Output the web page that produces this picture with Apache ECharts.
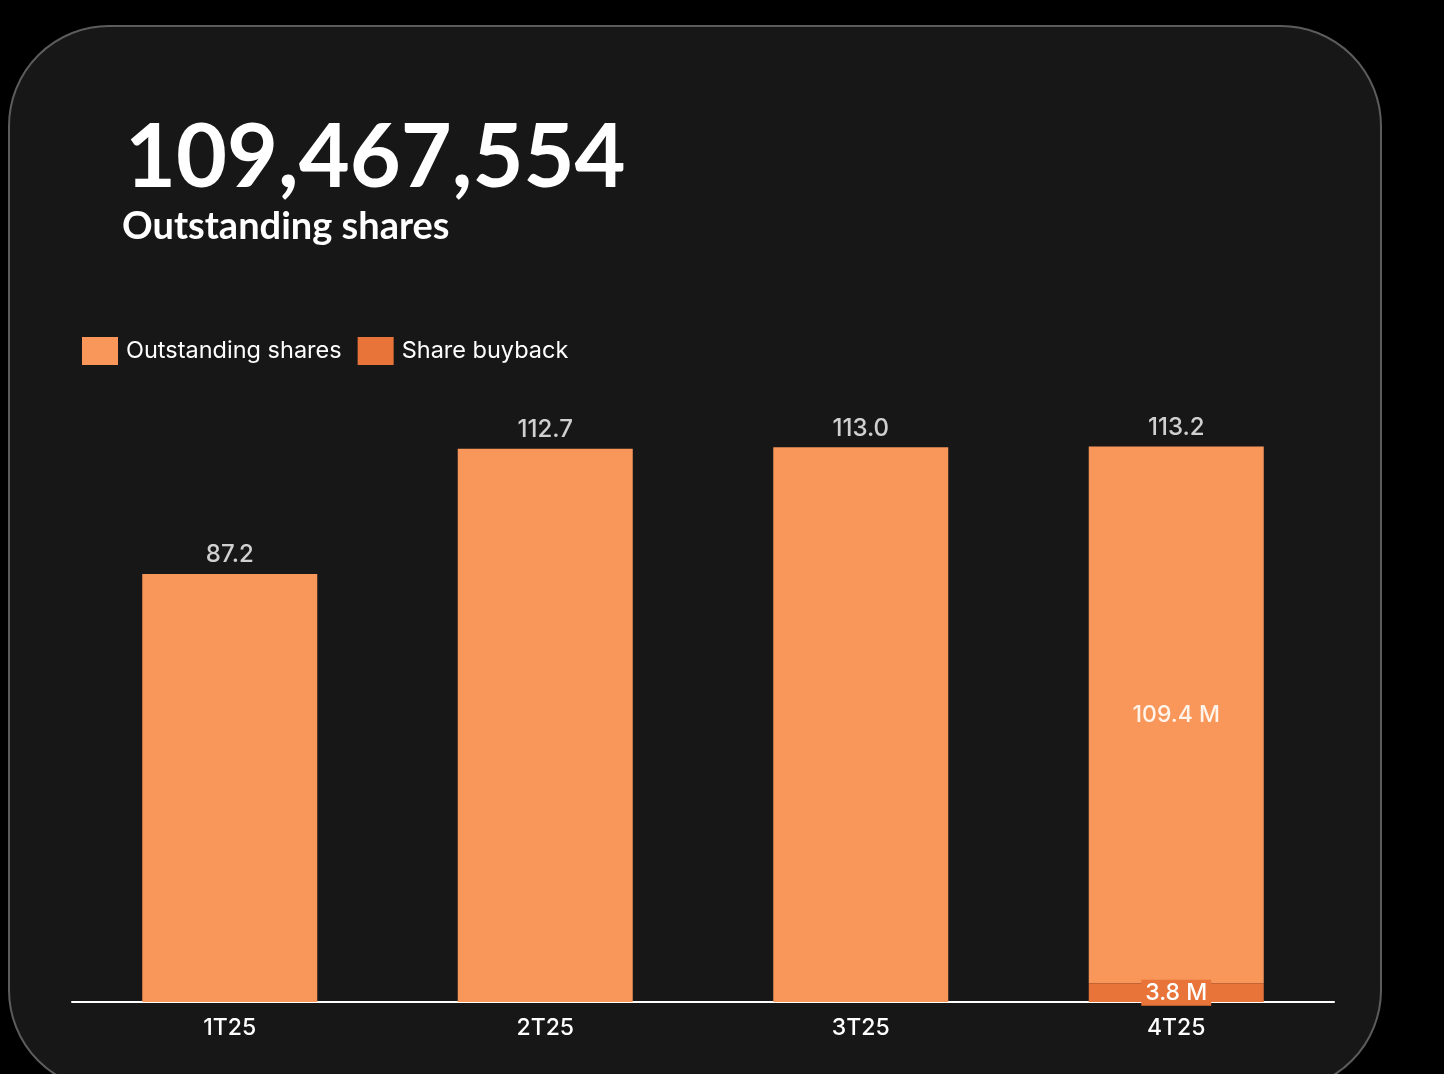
<!DOCTYPE html>
<html>
<head>
<meta charset="utf-8">
<script src="https://cdn.jsdelivr.net/npm/echarts@6/dist/echarts.min.js"></script>
<style>
  html, body { margin: 0; padding: 0; background: #000; }
  #chart { width: 1444px; height: 1074px; }
</style>
</head>
<body>
<div id="chart"></div>
<script>
// ---- Data ----
const categories = ['1T25', '2T25', '3T25', '4T25'];
const outstanding = [87.2, 112.7, 113.0, 109.4];
const buyback = [null, null, null, 3.8];
const headlineValue = '109,467,554';
const headlineLabel = 'Outstanding shares';
const seriesNames = ['Outstanding shares', 'Share buyback'];

const totals = outstanding.map((v, i) => +(v + (buyback[i] || 0)).toFixed(1));

const COL_OUT = '#F9965A';
const COL_BUY = '#E8743A';
const FONT = 'Inter, "Noto Sans", sans-serif';

const chart = echarts.init(document.getElementById('chart'), null, { renderer: 'canvas' });

const option = {
  backgroundColor: '#000',
  animation: false,
  graphic: [
    {
      type: 'rect', z: -10, silent: true,
      shape: { x: 9, y: 26, width: 1372, height: 1064, r: 100 },
      style: { fill: '#171717', stroke: '#5c5c5c', lineWidth: 2 }
    },
    {
      type: 'text', left: 125, top: 115, z: 10,
      style: { text: headlineValue, fill: '#ffffff', font: 'bold 88px Lato, sans-serif' }
    },
    {
      type: 'text', left: 122, top: 208, z: 10,
      style: { text: headlineLabel, fill: '#ffffff', font: 'bold 38px Lato, sans-serif' }
    }
  ],
  legend: {
    data: seriesNames,
    left: 82, top: 337, padding: 0,
    itemWidth: 36, itemHeight: 28, itemGap: 16,
    icon: 'rect',
    textStyle: { color: '#ffffff', fontSize: 23.5, fontFamily: FONT, padding: [0, 0, 0, 3] }
  },
  grid: { left: 72, right: 110, top: 413, bottom: 72, containLabel: false },
  xAxis: {
    type: 'category',
    data: categories,
    axisLine: { show: true, lineStyle: { color: '#ffffff', width: 2 } },
    axisTick: { show: false },
    axisLabel: { color: '#ffffff', fontSize: 23, fontWeight: 500, fontFamily: FONT, margin: 15 }
  },
  yAxis: {
    type: 'value', min: 0, max: 120,
    show: false,
    splitLine: { show: false }
  },
  series: [
    {
      name: seriesNames[1],
      type: 'bar', stack: 'shares', barWidth: 175,
      itemStyle: { color: COL_BUY },
      data: buyback,
      label: {
        show: true, position: 'inside',
        formatter: p => p.value + ' M',
        color: '#ffffff', fontSize: 23, fontWeight: 500, fontFamily: FONT,
        backgroundColor: COL_BUY, padding: [2, 4, 1, 4]
      },
      z: 3
    },
    {
      name: seriesNames[0],
      type: 'bar', stack: 'shares', barWidth: 175,
      itemStyle: { color: COL_OUT },
      data: outstanding.map((v, i) => buyback[i] ? {
        value: v,
        label: { show: true, position: 'inside', formatter: v.toFixed(1) + ' M',
                 color: '#FFF4EA', fontSize: 23, fontWeight: 500, fontFamily: FONT }
      } : v),
      label: { show: false }
    },
    {
      name: 'Total',
      type: 'scatter',
      symbolSize: 0,
      data: totals,
      label: {
        show: true, position: 'top', distance: 7,
        formatter: p => p.value.toFixed(1),
        color: '#ffffff', fontSize: 24, fontWeight: 500, fontFamily: FONT
      },
      z: 5
    }
  ]
};
chart.setOption(option);
</script>
</body>
</html>
